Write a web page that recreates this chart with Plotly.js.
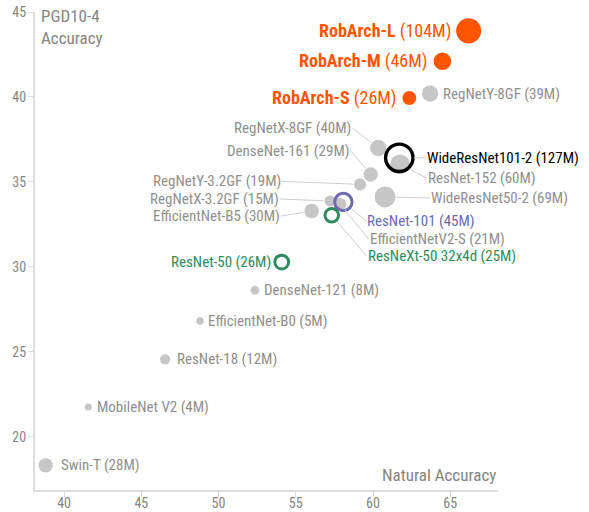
<!DOCTYPE html>
<html><head><meta charset="utf-8">
<script src="https://cdn.plot.ly/plotly-3.0.1.min.js"></script>
<style>html,body{margin:0;padding:0;background:#fff}</style>
</head><body><div id="chart" style="width:589px;height:512px"></div>
<script>
// ---- data ----
const models = ["RobArch-L","RobArch-M","RobArch-S","RegNetY-8GF","RegNetX-8GF","WideResNet101-2",
  "ResNet-152","DenseNet-161","RegNetY-3.2GF","WideResNet50-2","RegNetX-3.2GF","ResNet-101",
  "EfficientNet-B5","EfficientNetV2-S","ResNeXt-50 32x4d","ResNet-50","DenseNet-121",
  "EfficientNet-B0","ResNet-18","MobileNet V2","Swin-T"];
const paramsM = [104,46,26,39,40,127,60,29,19,69,15,45,30,21,25,26,8,5,12,4,28];
const naturalAcc = [66.19,64.49,62.35,63.69,60.34,61.70,61.75,59.85,59.16,60.78,57.22,58.08,
  56.03,57.86,57.33,54.09,52.36,48.80,46.54,41.57,38.81];
const pgdAcc = [43.89,42.10,39.94,40.20,37.00,36.42,36.04,35.44,34.86,34.12,33.88,33.82,
  33.29,33.69,33.04,30.29,28.63,26.82,24.57,21.76,18.33];
const groups = ["robarch","robarch","robarch","gray","gray","black","gray","gray","gray","gray","gray",
  "purple","gray","gray","green","green","gray","gray","gray","gray","gray"];
const xTicks = [40,45,50,55,60,65];
const yTicks = [20,25,30,35,40,45];
const xTitle = "Natural Accuracy";
const yTitle = "PGD10-4<br>Accuracy";

// ---- styles / layout ----
const FONT = '"Liberation Sans Narrow", "Arial Narrow", "Roboto Condensed", "Liberation Sans", sans-serif';
const styles = {
  gray:    {color:'#c6c6c6', open:false, text:'#8f8f8f', w:0},
  robarch: {color:'#ff5500', open:false, text:'#ff5500', bold:true, w:0},
  black:   {color:'#000000', open:true,  text:'#000000', w:3.4},
  purple:  {color:'#6f68b2', open:true,  text:'#6f68b2', w:3},
  green:   {color:'#2f8a62', open:true,  text:'#2f8a62', w:3}
};
const groupOrder = ["gray","robarch","black","purple","green"];
const sizeOf = p => 2.6 + 2.2*Math.sqrt(p);

// label placement: side of text, pixel shift / leader offsets
const place = {
  "RobArch-L":{side:"right",dx:-17},
  "RobArch-M":{side:"right",dx:-13},
  "RobArch-S":{side:"right",dx:-11},
  "RegNetY-8GF":{side:"left",dx:12},
  "RegNetX-8GF":{side:"right",ax:-26,ay:-20},
  "WideResNet101-2":{side:"left",ax:27,ay:0},
  "ResNet-152":{side:"left",ax:27,ay:14},
  "DenseNet-161":{side:"right",ax:-20,ay:-24},
  "RegNetY-3.2GF":{side:"right",ax:-78,ay:-3},
  "WideResNet50-2":{side:"left",ax:45,ay:1},
  "RegNetX-3.2GF":{side:"right",ax:-50,ay:-2},
  "ResNet-101":{side:"left",ax:23,ay:19},
  "EfficientNet-B5":{side:"right",ax:-31,ay:5},
  "EfficientNetV2-S":{side:"left",ax:29,ay:35},
  "ResNeXt-50 32x4d":{side:"left",ax:35,ay:41},
  "ResNet-50":{side:"right",dx:-10},
  "DenseNet-121":{side:"left",dx:8},
  "EfficientNet-B0":{side:"left",dx:7},
  "ResNet-18":{side:"left",dx:11},
  "MobileNet V2":{side:"left",dx:8},
  "Swin-T":{side:"left",dx:14}
};

const traces = groupOrder.map(g => {
  const idx = models.map((m,i)=>i).filter(i => groups[i]===g);
  const st = styles[g];
  return {
    type:'scatter', mode:'markers', cliponaxis:false, hoverinfo:'skip',
    x: idx.map(i=>naturalAcc[i]), y: idx.map(i=>pgdAcc[i]),
    marker: {
      symbol: st.open ? 'circle-open' : 'circle',
      size: idx.map(i=>sizeOf(paramsM[i])),
      color: st.color, opacity: 1,
      line: {width: st.w, color: st.color}
    }
  };
});

const annotations = models.map((m,i) => {
  const st = styles[groups[i]];
  const p = place[m];
  const txt = st.bold ? `<b>${m}</b> (${paramsM[i]}M)` : `${m} (${paramsM[i]}M)`;
  const a = {
    x: naturalAcc[i], y: pgdAcc[i], xref:'x', yref:'y', text: txt,
    font:{family:FONT, size: st.bold ? 18 : 15, color: st.text},
    xanchor: p.side, yanchor:'middle', borderpad:0
  };
  if (p.ax !== undefined) {
    Object.assign(a, {showarrow:true, ax:p.ax, ay:p.ay, arrowhead:0, arrowwidth:1,
      arrowcolor:'#cfcfcf', standoff: sizeOf(paramsM[i])/2 + 1});
  } else {
    Object.assign(a, {showarrow:false, xshift:p.dx});
  }
  return a;
});
annotations.push({xref:'paper', yref:'paper', x:0, y:1, xanchor:'left', yanchor:'top', xshift:4, yshift:8,
  text:yTitle, align:'left', showarrow:false, font:{family:FONT, size:17, color:'#858585'}});
annotations.push({xref:'paper', yref:'paper', x:1, y:0, xanchor:'right', yanchor:'bottom', yshift:3,
  text:xTitle, showarrow:false, font:{family:FONT, size:17, color:'#858585'}});

const axisCommon = {showline:true, linecolor:'#dddddd', linewidth:2, ticks:'outside', ticklen:5,
  tickcolor:'#dddddd', tickwidth:1, showgrid:false, zeroline:false,
  tickfont:{family:FONT, size:14, color:'#858585'}};

const layout = {
  width:589, height:512, showlegend:false,
  margin:{l:35, r:91, t:12, b:22, pad:0},
  paper_bgcolor:'#fff', plot_bgcolor:'#fff',
  font:{family:FONT},
  xaxis: Object.assign({}, axisCommon, {range:[38.12,68.09], tickvals:xTicks, ticklabelstandoff:-6}),
  yaxis: Object.assign({}, axisCommon, {range:[16.88,45], tickvals:yTicks, ticklabelstandoff:-1}),
  annotations
};
Plotly.newPlot('chart', traces, layout, {displayModeBar:false, staticPlot:true});
</script></body></html>
